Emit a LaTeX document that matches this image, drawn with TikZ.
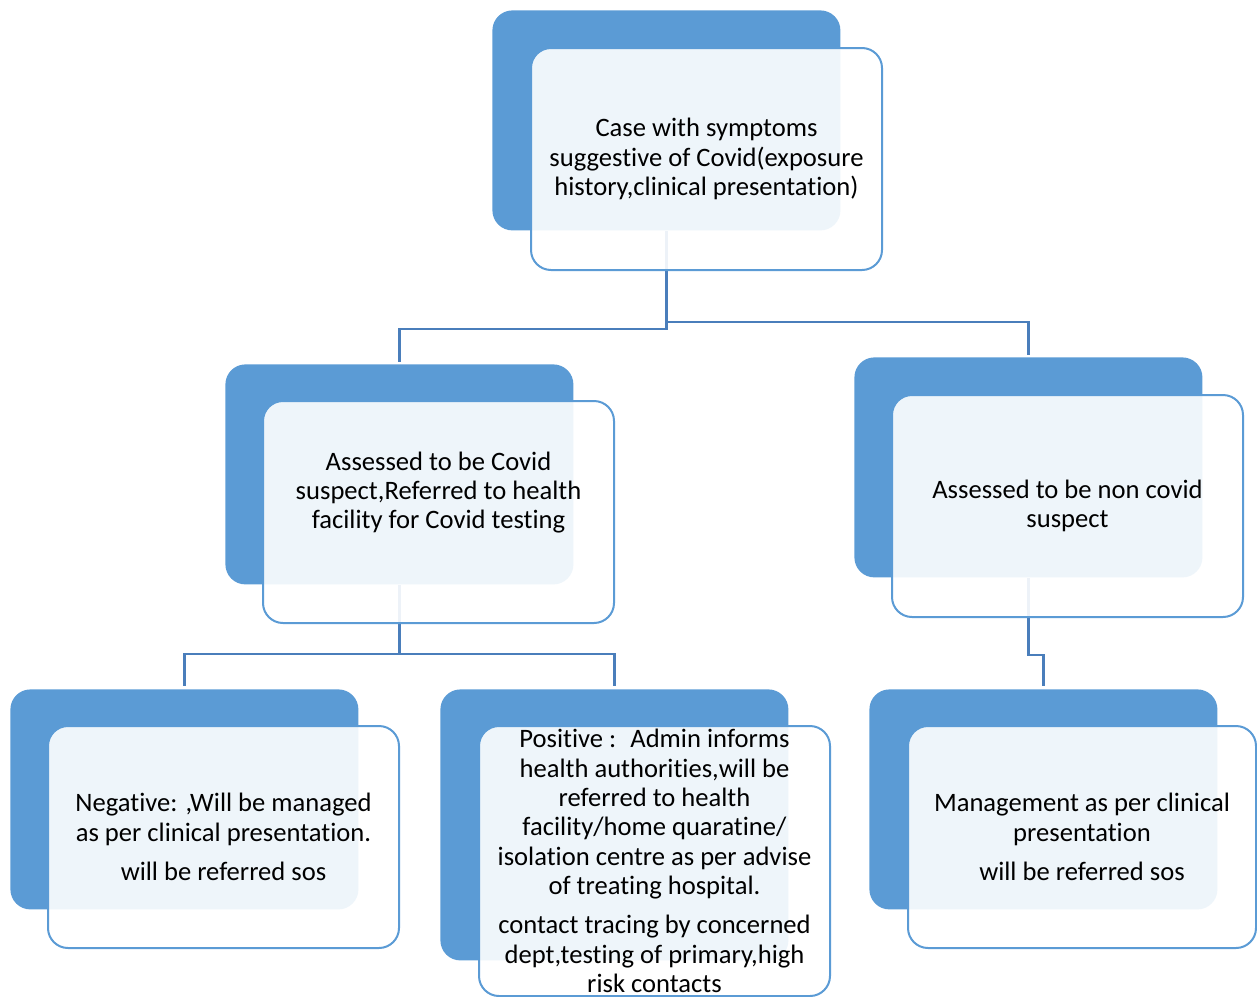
\documentclass[tikz,border=0pt]{standalone}
\usepackage{fontspec}
\setmainfont{Carlito}[Ligatures=NoCommon]
\usetikzlibrary{positioning}

\definecolor{boxblue}{HTML}{5B9BD5}
\definecolor{linkblue}{HTML}{4A7EBB}

\tikzset{
  backbox/.style={fill=boxblue, rounded corners=10pt, inner sep=0pt,
    minimum width=174pt, minimum height=110pt, anchor=north west},
  frontbox/.style={draw=boxblue, line width=1pt, fill=white, fill opacity=0.9,
    text opacity=1, rounded corners=10pt, inner sep=0pt, align=center,
    minimum width=175.5pt, minimum height=111pt, anchor=north west,
    font=\fontsize{13.3}{14.65}\selectfont},
  link/.style={draw=linkblue, line width=1.2pt}
}

\begin{document}
\begin{tikzpicture}[x=0.5pt, y=-0.5pt]

  % Fix the page to the size of the picture
  \useasboundingbox (0,0) rectangle (1257,996);

  % Back boxes
  \node[backbox] (topb) at (492,10) {};
  \node[backbox] (lmb) at (225,364) {};
  \node[backbox] (rmb) at (854,357) {};
  \node[backbox] (blb) at (10,689) {};
  \node[backbox, minimum height=135.5pt] (bmb) at (440,689) {};
  \node[backbox] (brb) at (869,689) {};

  % Connectors from the top box
  \draw[link] (topb.south) -- (topb.south |- 0,329) -| ([yshift=1pt]lmb.north);
  \draw[link] (topb.south |- 0,322) -| ([yshift=1pt]rmb.north);

  % Connectors from the middle boxes
  \draw[link] (lmb.south) -- (lmb.south |- 0,654) -| ([yshift=1.5pt]blb.north);
  \draw[link] (lmb.south |- 0,654) -| ([yshift=1.5pt]bmb.north);
  \draw[link] (rmb.south) |- (brb.north |- 0,655) -- ([yshift=1.5pt]brb.north);

  % Front boxes with the texts
  \node[frontbox] (top) at ([xshift=19pt, yshift=-18.5pt]topb.north west)
    {Case with symptoms\\suggestive of Covid(exposure\\history,clinical presentation)};
  \node[frontbox] (lm) at ([xshift=18.5pt, yshift=-18pt]lmb.north west)
    {Assessed to be Covid\\suspect,Referred to health\\facility for Covid testing\\[7pt]\mbox{}};
  \node[frontbox] (rm) at ([xshift=18.5pt, yshift=-18.5pt]rmb.north west)
    {Assessed to be non covid\\suspect};
  \node[frontbox] (bl) at ([xshift=18.5pt, yshift=-18pt]blb.north west)
    {Negative: ,Will be managed\\as per clinical presentation.\\[5pt]will be referred sos};
  \node[frontbox, minimum height=135pt] (bm) at ([xshift=19pt, yshift=-18pt]bmb.north west)
    {Positive :~ Admin informs\\health authorities,will be\\referred to health\\facility/home quaratine/\\isolation centre as per advise\\of treating hospital.\\[5pt]contact tracing by concerned\\dept,testing of primary,high\\risk contacts};
  \node[frontbox, minimum width=174pt] (br) at ([xshift=19pt, yshift=-18pt]brb.north west)
    {Management as per clinical\\presentation\\[5pt]will be referred sos};

\end{tikzpicture}
\end{document}
